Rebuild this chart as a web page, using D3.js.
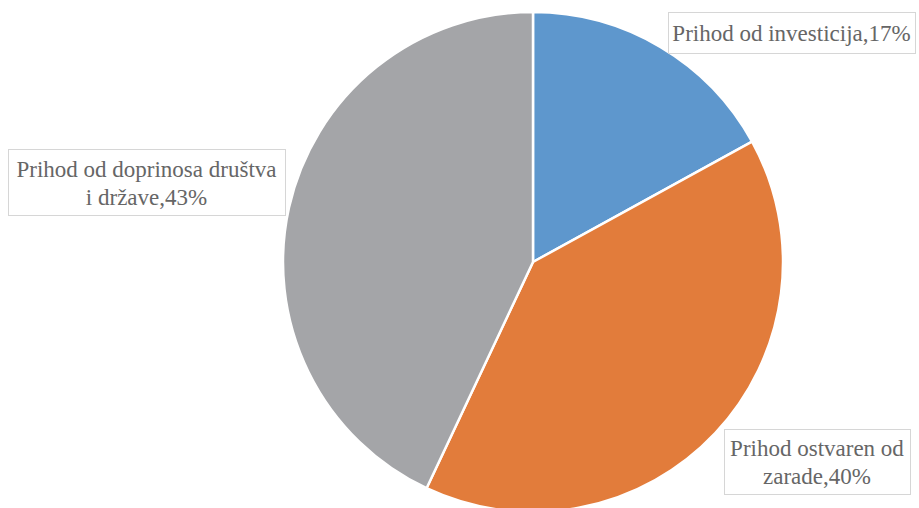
<!DOCTYPE html>
<html>
<head>
<meta charset="utf-8">
<title>Prihodi</title>
<style>
body { margin: 0; background: #fff; }
</style>
</head>
<body>
<svg id="chart" width="919" height="508"></svg>
<script src="https://cdnjs.cloudflare.com/ajax/libs/d3/7.8.5/d3.min.js"></script>
<script>
// data
var categories = ["Prihod od investicija", "Prihod ostvaren od zarade", "Prihod od doprinosa društva i države"]
var values = [17, 40, 43]
var labelLines = [
  ["Prihod od investicija,17%"],
  ["Prihod ostvaren od", "zarade,40%"],
  ["Prihod od doprinosa društva", "i države,43%"]
]
var colors = ["#5e97cd", "#e27c3b", "#a4a5a8"]

var width = 919, height = 508
var cx = 533, cy = 262, r = 250

var svg = d3.select('#chart')

var pie = d3.pie().sort(null).value(function(d) { return d })
var arc = d3.arc().innerRadius(0).outerRadius(r)

var g = svg.append('g').attr('transform', 'translate(' + cx + ',' + cy + ')')

g.selectAll('path')
  .data(pie(values))
  .enter()
  .append('path')
  .attr('d', arc)
  .attr('fill', function(d, i) { return colors[i] })
  .attr('stroke', '#fff')
  .attr('stroke-width', 2.5)
  .attr('stroke-linejoin', 'round')

// label boxes (left, top, width, height) - excel best fit placement
var boxes = [
  {x: 668, y: 12, w: 247, h: 41},
  {x: 724, y: 429, w: 186, h: 65},
  {x: 8, y: 149, w: 277, h: 66}
]
var fs = 23, lh = 28

labelLines.forEach(function(lines, i) {
  var b = boxes[i]
  var lg = svg.append('g')
  lg.append('rect')
    .attr('x', b.x + 0.5)
    .attr('y', b.y + 0.5)
    .attr('width', b.w)
    .attr('height', b.h)
    .attr('fill', '#fff')
    .attr('stroke', '#d6d6d6')
    .attr('stroke-width', 1)
  var mx = b.x + b.w / 2, my = b.y + b.h / 2
  var t0 = my - (lines.length - 1) * lh / 2 + 8.5
  lines.forEach(function(line, j) {
    lg.append('text')
      .attr('x', mx)
      .attr('y', t0 + j * lh)
      .attr('text-anchor', 'middle')
      .attr('font-family', 'Liberation Serif')
      .attr('font-size', fs)
      .attr('fill', '#666')
      .text(line)
  })
})
</script>
</body>
</html>
